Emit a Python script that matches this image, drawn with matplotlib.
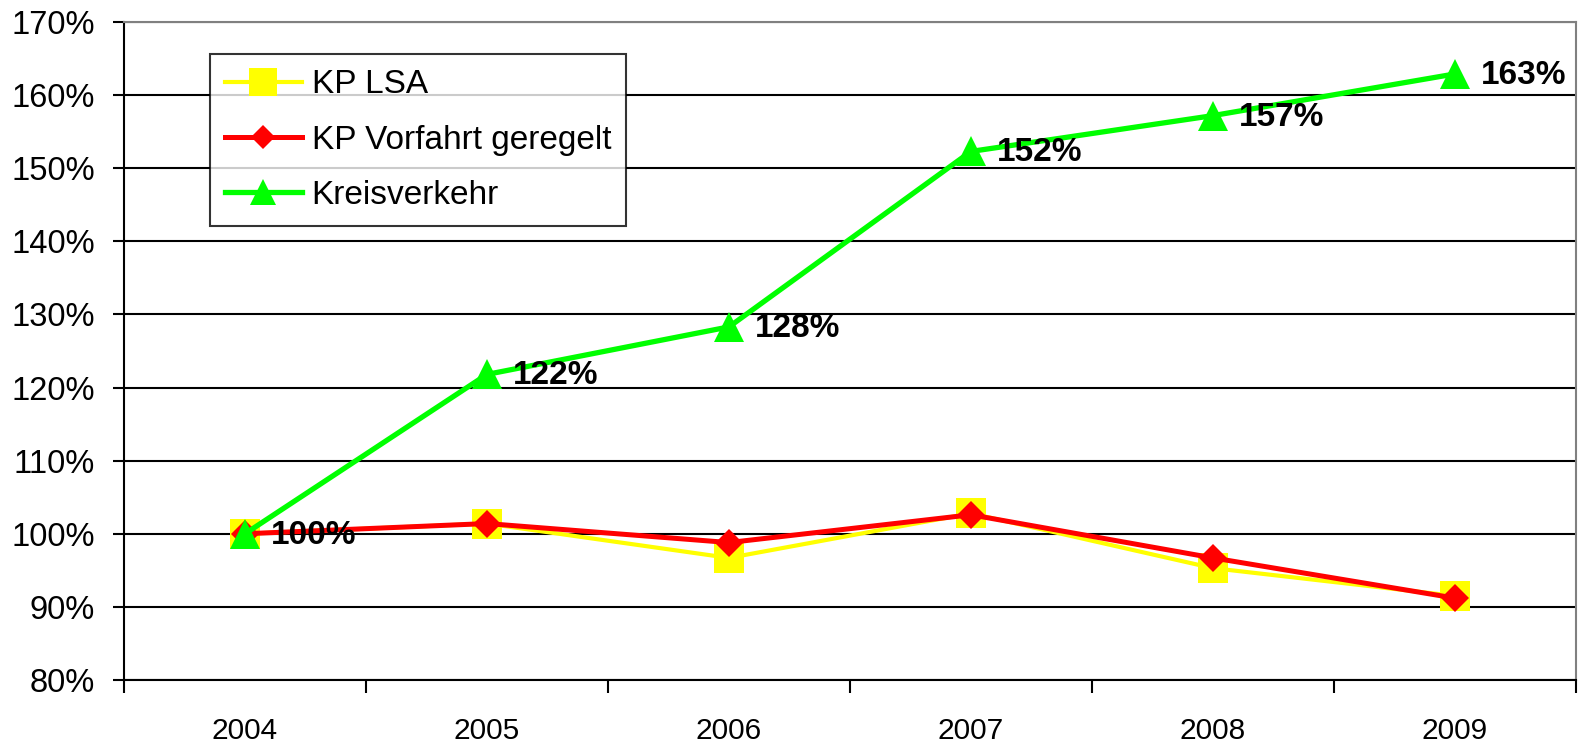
import numpy as np
import matplotlib
matplotlib.use('Agg')
from matplotlib import pyplot as plt

plt.rcParams['font.family'] = ['Liberation Sans', 'DejaVu Sans']

# data (values in percent, 2004 = 100 %)
years = ['2004', '2005', '2006', '2007', '2008', '2009']
kp_lsa = [100.0, 101.4, 96.7, 102.8, 95.3, 91.5]
kp_vorfahrt = [100.0, 101.4, 98.8, 102.6, 96.7, 91.2]
kreisverkehr = [100.0, 121.8, 128.3, 152.3, 157.2, 162.9]
kreis_labels = ['100%', '122%', '128%', '152%', '157%', '163%']
y_ticks = [80, 90, 100, 110, 120, 130, 140, 150, 160, 170]

fig = plt.figure(figsize=(15.81, 7.47), dpi=100)
ax = fig.add_axes([0.0784, 0.0897, 0.9968 - 0.0784, 0.9705 - 0.0897])

x = np.arange(len(years))
ax.plot(x, kp_lsa, color='#FFFF00', lw=3.0, marker='s', ms=22,
        markeredgewidth=0, label='KP LSA', zorder=3)
ax.plot(x, kp_vorfahrt, color='#FF0000', lw=3.6, marker='D', ms=14,
        markeredgewidth=0, label='KP Vorfahrt geregelt', zorder=4)
ax.plot(x, kreisverkehr, color='#00FF00', lw=3.8, marker='^', ms=21,
        markeredgewidth=0, label='Kreisverkehr', zorder=5)

# bold value labels right of the Kreisverkehr markers
for xi, yi, txt in zip(x, kreisverkehr, kreis_labels):
    ax.annotate(txt, (xi, yi), xytext=(19, -1), textcoords='offset points',
                ha='left', va='center', fontsize=24, fontweight='bold',
                zorder=6)

ax.set_xlim(-0.5, len(years) - 0.5)
ax.set_ylim(80, 170)
ax.set_yticks(y_ticks)
ax.set_yticklabels([f'{v}%' for v in y_ticks])
ax.set_xticks(x)
ax.set_xticklabels(years)
ax.set_xticks(np.arange(-0.5, len(years)), minor=True)

ax.tick_params(axis='y', which='major', direction='out', length=8,
               width=1.5, pad=13, labelsize=23.5)
ax.tick_params(axis='x', which='major', length=0, pad=27, labelsize=21.5)
ax.tick_params(axis='x', which='minor', direction='out', length=9.5,
               width=1.5)

ax.yaxis.grid(True, color='black', lw=1.5)
ax.set_axisbelow(True)

for side in ['left', 'bottom']:
    ax.spines[side].set_color('black')
    ax.spines[side].set_linewidth(1.5)
for side in ['top', 'right']:
    ax.spines[side].set_color('#808080')
    ax.spines[side].set_linewidth(1.5)

leg = ax.legend(loc='upper left', bbox_to_anchor=(0.0592, 0.951),
                borderaxespad=0, fontsize=24, frameon=True, fancybox=False,
                handlelength=2.3, handletextpad=0.3, labelspacing=0.73,
                borderpad=0.45, markerscale=0.9)
leg.get_frame().set_edgecolor('black')
leg.get_frame().set_linewidth(1.5)

fig.savefig('out.png', dpi=100)
